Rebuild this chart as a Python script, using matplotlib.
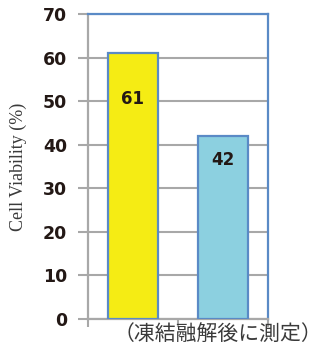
import matplotlib
matplotlib.use("Agg")
import matplotlib.pyplot as plt

categories = ["A", "B"]
values = [61, 42]
bar_colors = ["#F5EC14", "#8CD0E0"]
y_ticks = [0, 10, 20, 30, 40, 50, 60, 70]
y_label = "Cell Viability (%)"
x_note = "（凍結融解後に測定）"

fig = plt.figure(figsize=(3.23, 3.53), dpi=100)
ax = fig.add_axes([88 / 323, 1 - 319 / 353, 180 / 323, 305 / 353])

x = range(len(categories))
ax.bar(x, values, width=0.56, color=bar_colors, edgecolor="#5A8AC6", linewidth=1.6, zorder=3)
ax.set_xlim(-0.5, 1.5)
ax.set_ylim(0, 70)

ax.set_yticks(y_ticks)
ax.set_yticklabels([str(t) for t in y_ticks], fontsize=12.5, fontweight="bold", color="#231815",
                   family="DejaVu Sans")
ax.yaxis.grid(True, color="#A8A8A8", linewidth=1.5, zorder=0)
ax.tick_params(axis="y", length=7, width=1.5, color="#A8A8A8", pad=8)

ax.set_xticks([-0.5, 0.5, 1.5])
ax.set_xticklabels([])
ax.tick_params(axis="x", length=6, width=1.5, color="#A8A8A8", direction="out")

for side in ("left", "bottom"):
    ax.spines[side].set_color("#A8A8A8")
    ax.spines[side].set_linewidth(1.6)
for side in ("top", "right"):
    ax.spines[side].set_color("#5A8AC6")
    ax.spines[side].set_linewidth(1.6)

# value labels inside the bars
label_offsets = [-10.5, -5.5]
for xi, v, off in zip(x, values, label_offsets):
    ax.text(xi, v + off, str(v), ha="center", va="center", fontsize=12, fontweight="bold",
            color="#231815", family="DejaVu Sans", zorder=4)

fig.text(18 / 323, 1 - 167 / 353, y_label, rotation=90, ha="center", va="center",
         fontsize=13, color="#3a3a3a", family="Liberation Serif")
fig.text(322 / 323, 1 - 334 / 353, x_note, ha="right", va="center", fontsize=15,
         color="#3a3a3a", family=["Noto Sans CJK JP", "DejaVu Sans"])

fig.savefig("out.png", dpi=100)
